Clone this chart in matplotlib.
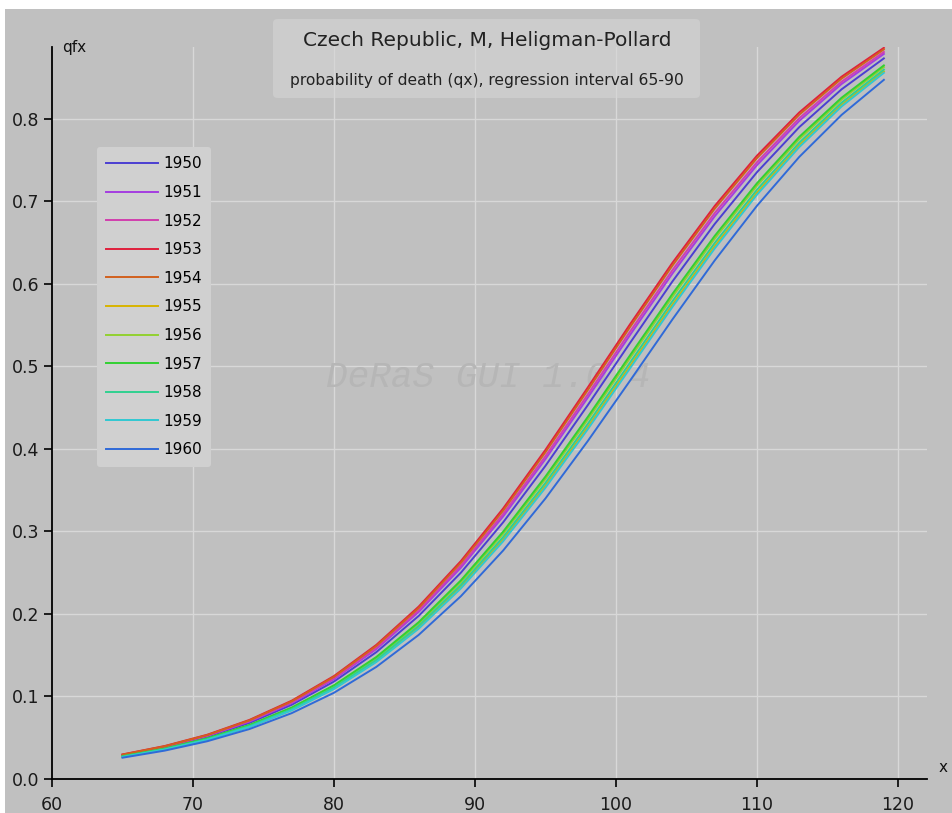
import matplotlib
matplotlib.use("Agg")
import matplotlib.pyplot as plt
from matplotlib.patches import Rectangle, FancyBboxPatch

ages = [65, 68, 71, 74, 77, 80, 83, 86, 89, 92, 95, 98, 101, 104, 107, 110, 113, 116, 119]

q1950 = [0.0285, 0.0382, 0.0510, 0.0679, 0.0899, 0.1181, 0.1537, 0.1975, 0.2500, 0.3111,
         0.3795, 0.4530, 0.5285, 0.6028, 0.6725, 0.7353, 0.7899, 0.8357, 0.8732]
q1951 = [0.0290, 0.0389, 0.0521, 0.0695, 0.0920, 0.1209, 0.1574, 0.2023, 0.2560, 0.3182,
         0.3877, 0.4621, 0.5381, 0.6124, 0.6818, 0.7438, 0.7975, 0.8422, 0.8786]
q1952 = [0.0293, 0.0393, 0.0526, 0.0702, 0.0929, 0.1222, 0.1590, 0.2043, 0.2586, 0.3213,
         0.3912, 0.4660, 0.5422, 0.6165, 0.6857, 0.7474, 0.8007, 0.8450, 0.8810]
q1953 = [0.0298, 0.0400, 0.0536, 0.0716, 0.0949, 0.1248, 0.1625, 0.2088, 0.2641, 0.3279,
         0.3989, 0.4744, 0.5511, 0.6254, 0.6943, 0.7553, 0.8077, 0.8510, 0.8860]
q1954 = [0.0296, 0.0397, 0.0532, 0.0710, 0.0941, 0.1238, 0.1612, 0.2071, 0.2620, 0.3253,
         0.3960, 0.4712, 0.5477, 0.6220, 0.6910, 0.7523, 0.8050, 0.8487, 0.8841]
q1955 = [0.0268, 0.0359, 0.0478, 0.0634, 0.0837, 0.1098, 0.1427, 0.1834, 0.2326, 0.2902,
         0.3553, 0.4264, 0.5005, 0.5746, 0.6455, 0.7104, 0.7678, 0.8167, 0.8573]
q1956 = [0.0274, 0.0366, 0.0489, 0.0649, 0.0858, 0.1126, 0.1465, 0.1882, 0.2385, 0.2973,
         0.3636, 0.4355, 0.5101, 0.5842, 0.6547, 0.7189, 0.7754, 0.8232, 0.8627]
q1957 = [0.0276, 0.0369, 0.0493, 0.0655, 0.0866, 0.1136, 0.1478, 0.1899, 0.2407, 0.2998,
         0.3665, 0.4387, 0.5135, 0.5877, 0.6580, 0.7219, 0.7781, 0.8255, 0.8647]
q1958 = [0.0271, 0.0362, 0.0482, 0.0641, 0.0846, 0.1110, 0.1443, 0.1855, 0.2351, 0.2932,
         0.3588, 0.4303, 0.5046, 0.5788, 0.6494, 0.7140, 0.7710, 0.8195, 0.8596]
q1959 = [0.0267, 0.0356, 0.0474, 0.0629, 0.0831, 0.1090, 0.1417, 0.1820, 0.2309, 0.2881,
         0.3530, 0.4238, 0.4977, 0.5719, 0.6428, 0.7080, 0.7657, 0.8149, 0.8557]
q1960 = [0.0258, 0.0344, 0.0457, 0.0605, 0.0798, 0.1045, 0.1358, 0.1745, 0.2215, 0.2769,
         0.3400, 0.4095, 0.4827, 0.5568, 0.6283, 0.6946, 0.7538, 0.8047, 0.8472]

years = ["1950", "1951", "1952", "1953", "1954", "1955", "1956", "1957", "1958", "1959", "1960"]
series = [q1950, q1951, q1952, q1953, q1954, q1955, q1956, q1957, q1958, q1959, q1960]
colors = ["#4b3fd2", "#a43ee0", "#d23fae", "#e0203c", "#d2601e", "#d8b400",
          "#92d030", "#32d032", "#30d090", "#30c8d2", "#2f6ad8"]

xticks = [60, 70, 80, 90, 100, 110, 120]
yticks = [0.0, 0.1, 0.2, 0.3, 0.4, 0.5, 0.6, 0.7, 0.8]

W, H = 952, 813
bg = "#c0c0c0"

fig = plt.figure(figsize=(W / 100, H / 100), dpi=100, facecolor="white")
# gray panel (small white strip on top and left like the screenshot)
fig.patches.append(Rectangle((5 / W, 0), 1, 1 - 9 / H, transform=fig.transFigure,
                             facecolor=bg, edgecolor="none", zorder=-5))

ax = fig.add_axes([52 / W, 1 - 779 / H, (927 - 52) / W, (779 - 47) / H])
ax.patch.set_visible(False)
ax.set_xlim(60, 122.06)
ax.set_ylim(0, 0.887)

for x in xticks[1:]:
    ax.axvline(x, color="#d8d8d8", lw=1, zorder=1)
for y in yticks[1:]:
    ax.axhline(y, color="#d8d8d8", lw=1, zorder=1)

# watermark
ax.text(0.499, 0.548, "DeRaS GUI 1.0.4", transform=ax.transAxes, ha="center", va="center",
        fontsize=26, family="Liberation Mono", style="italic", color="#b6b6b6", zorder=2)

for yr, q, c in zip(years, series, colors):
    ax.plot(ages, q, color=c, lw=1.4, label=yr, zorder=3)

for s in ["top", "right"]:
    ax.spines[s].set_visible(False)
for s in ["left", "bottom"]:
    ax.spines[s].set_color("black")
    ax.spines[s].set_linewidth(1.3)

ax.set_xticks(xticks)
ax.set_yticks(yticks)
ax.set_yticklabels(["%.1f" % v for v in yticks])
ax.tick_params(direction="out", length=6, width=1.2, labelsize=12.5, colors="black",
               labelcolor="#1a1a1a")
ax.tick_params(axis="x", pad=6)
ax.tick_params(axis="y", pad=3)

leg = ax.legend(loc="upper left", bbox_to_anchor=(0.051, 0.863), borderaxespad=0,
                fontsize=11, handlelength=3.4, handletextpad=0.35, labelspacing=0.89,
                frameon=True, fancybox=True, borderpad=0.6)
leg.get_frame().set_facecolor("#d0d0d0")
leg.get_frame().set_edgecolor("none")
leg.get_frame().set_alpha(1)
leg.set_zorder(5)

ax.text(60.7, 0.886, "qfx", fontsize=11, ha="left", va="center", color="#111111")
fig.text(943 / W, 1 - 767 / H, "x", fontsize=11, ha="center", va="center", color="#111111")

# title box (slightly see-through, gridlines show faintly)
fig.patches.append(FancyBboxPatch((273 / W, 1 - 98 / H), 427 / W, 79 / H,
                                  boxstyle="round,pad=0,rounding_size=0.005",
                                  transform=fig.transFigure, facecolor="#d6d6d6",
                                  alpha=0.55, edgecolor="none", zorder=2))
fig.text(487 / W, 1 - 41 / H, "Czech Republic, M, Heligman-Pollard", fontsize=14.5,
         ha="center", va="center", color="#222222", zorder=3)
fig.text(487 / W, 1 - 80 / H, "probability of death (qx), regression interval 65-90",
         fontsize=11.2, ha="center", va="center", color="#222222", zorder=3)

fig.savefig("out.png", dpi=100, facecolor=fig.get_facecolor())
